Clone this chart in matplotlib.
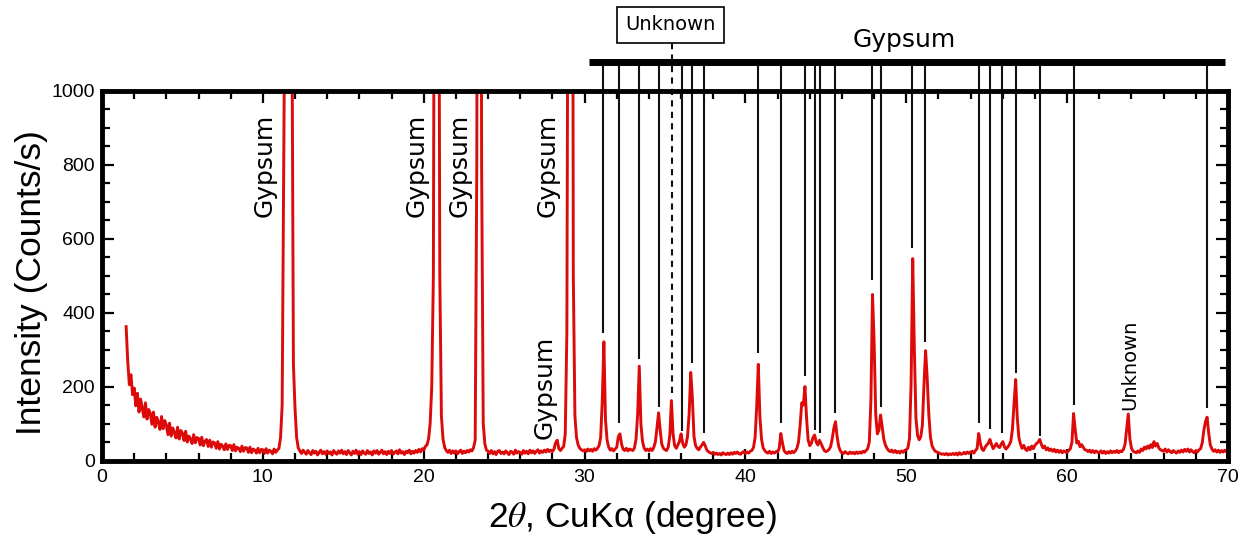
import numpy as np
import matplotlib
matplotlib.use("Agg")
import matplotlib.pyplot as plt
from matplotlib.ticker import MultipleLocator

nan = np.nan

# ---- Measured pattern: intensity (counts/s), one row per degree of 2-theta, 0.1 deg step ----
counts_01_10 = [
    [nan, nan, nan, nan, nan, 362, 268, 205, 232, 178],   # 1.x
    [196, 148, 182, 131, 166, 142, 118, 156, 112, 138],   # 2.x
    [128, 98, 131, 90, 117, 104, 84, 119, 86, 108],       # 3.x
    [96, 70, 101, 66, 88, 75, 61, 90, 58, 81],            # 4.x
    [74, 54, 79, 50, 66, 58, 46, 70, 48, 62],             # 5.x
    [60, 42, 63, 40, 52, 57, 38, 55, 36, 50],             # 6.x
    [48, 33, 51, 31, 44, 39, 29, 45, 30, 41],             # 7.x
    [40, 27, 43, 26, 36, 33, 24, 39, 25, 35],             # 8.x
    [34, 22, 36, 21, 31, 28, 20, 33, 21, 30],             # 9.x
]
counts_10_20 = [
    [29, 19, 32, 20, 28, 25, 18, 31, 22, 28],             # 10.x
    [33, 62, 150, 800, 1500, 3500, 4500, 3000, 1300, 260],  # 11.x
    [140, 62, 34, 26, 19, 28, 22, 17, 27, 21],            # 12.x
    [16, 27, 20, 25, 15, 22, 28, 18, 24, 17],             # 13.x
    [26, 19, 23, 15, 27, 21, 17, 26, 20, 28],             # 14.x
    [18, 24, 16, 27, 21, 15, 25, 19, 28, 17],             # 15.x
    [24, 16, 26, 20, 17, 27, 19, 23, 15, 26],             # 16.x
    [20, 27, 17, 22, 28, 18, 24, 16, 25, 19],             # 17.x
    [27, 17, 22, 26, 18, 29, 20, 24, 16, 25],             # 18.x
    [21, 28, 18, 25, 20, 27, 22, 30, 23, 32],             # 19.x
]
counts_20_30 = [
    [28, 38, 42, 58, 100, 200, 500, 2200, 4500, 2200],    # 20.x
    [500, 120, 58, 36, 27, 22, 28, 19, 26, 20],           # 21.x
    [26, 18, 24, 28, 19, 25, 21, 27, 23, 29],             # 22.x
    [26, 35, 55, 800, 3200, 3200, 800, 100, 45, 28],      # 23.x
    [25, 19, 27, 18, 24, 16, 25, 27, 19, 23],             # 24.x
    [18, 26, 21, 16, 25, 23, 17, 28, 20, 24],             # 25.x
    [22, 17, 27, 20, 25, 18, 28, 21, 26, 19],             # 26.x
    [25, 29, 20, 26, 22, 28, 23, 30, 24, 28],             # 27.x
    [24, 31, 48, 55, 32, 27, 33, 38, 72, 350],            # 28.x
    [2000, 4500, 3200, 500, 120, 62, 42, 33, 29, 26],     # 29.x
]
counts_30_40 = [
    [29, 24, 31, 26, 30, 25, 32, 28, 33, 40],             # 30.x
    [62, 160, 321, 110, 55, 36, 28, 32, 26, 31],          # 31.x
    [36, 65, 72, 44, 30, 27, 33, 26, 31, 29],             # 32.x
    [27, 34, 58, 125, 255, 100, 52, 34, 27, 31],          # 33.x
    [26, 32, 27, 35, 50, 88, 129, 82, 44, 33],            # 34.x
    [29, 27, 36, 68, 162, 72, 40, 33, 42, 52],            # 35.x
    [72, 47, 36, 42, 65, 125, 238, 172, 66, 40],          # 36.x
    [33, 29, 36, 42, 49, 40, 28, 24, 21, 19],             # 37.x
    [22, 17, 20, 16, 19, 15, 21, 18, 16, 20],             # 38.x
    [16, 21, 17, 22, 19, 23, 18, 17, 22, 24],             # 39.x
]
counts_40_50 = [
    [19, 23, 20, 25, 27, 35, 62, 145, 260, 118],          # 40.x
    [58, 34, 27, 22, 20, 25, 19, 23, 20, 24],             # 41.x
    [23, 33, 73, 48, 27, 21, 19, 24, 20, 25],             # 42.x
    [21, 26, 33, 50, 95, 156, 150, 200, 115, 55],         # 43.x
    [40, 47, 62, 69, 50, 42, 55, 46, 36, 27],             # 44.x
    [24, 26, 30, 38, 60, 88, 105, 64, 38, 26],            # 45.x
    [21, 19, 24, 20, 18, 23, 19, 22, 18, 23],             # 46.x
    [19, 23, 20, 25, 22, 27, 32, 50, 160, 449],           # 47.x
    [321, 125, 72, 82, 123, 92, 58, 42, 33, 27],          # 48.x
    [24, 28, 22, 27, 21, 25, 20, 26, 22, 27],             # 49.x
]
counts_50_60 = [
    [29, 34, 60, 210, 546, 304, 115, 68, 56, 64],         # 50.x
    [95, 205, 297, 223, 125, 64, 40, 31, 25, 23],         # 51.x
    [21, 19, 17, 18, 16, 19, 15, 18, 16, 19],             # 52.x
    [16, 20, 15, 21, 17, 18, 22, 18, 23, 19],             # 53.x
    [23, 25, 20, 27, 32, 73, 47, 31, 27, 36],             # 54.x
    [42, 47, 57, 43, 32, 39, 46, 38, 35, 44],             # 55.x
    [51, 37, 31, 36, 42, 52, 85, 155, 219, 115],          # 56.x
    [62, 44, 33, 41, 31, 27, 36, 29, 39, 32],             # 57.x
    [41, 46, 50, 57, 43, 34, 39, 29, 34, 27],             # 58.x
    [31, 25, 30, 23, 28, 22, 27, 21, 26, 23],             # 59.x
]
counts_60_70 = [
    [22, 27, 32, 50, 127, 84, 47, 52, 37, 43],            # 60.x
    [36, 29, 28, 24, 28, 22, 27, 21, 26, 22],             # 61.x
    [21, 26, 20, 25, 19, 24, 20, 26, 21, 25],             # 62.x
    [22, 27, 21, 26, 24, 30, 44, 85, 126, 58],            # 63.x
    [33, 25, 23, 21, 26, 22, 31, 27, 36, 31],             # 64.x
    [39, 33, 43, 35, 51, 39, 46, 34, 29, 27],             # 65.x
    [25, 31, 23, 29, 24, 21, 27, 23, 20, 26],             # 66.x
    [22, 28, 23, 30, 25, 31, 23, 29, 24, 21],             # 67.x
    [27, 23, 29, 32, 48, 82, 105, 117, 74, 42],           # 68.x
    [31, 25, 29, 23, 28, 22, 27, 23, 28, 24],             # 69.x
    [24],                                                 # 70.0
]

# ---- Reference-line annotations (Gypsum) ----
gypsum_ref_pos = [31.16, 32.15, 33.39, 34.64, 36.03, 36.65, 37.43, 40.79, 42.24,
                  43.69, 44.31, 44.62, 45.56, 47.87, 48.40, 50.36, 51.19, 54.52,
                  55.19, 55.95, 56.80, 58.29, 60.41, 68.70]
gypsum_ref_end = [345, 101, 274, 145, 80, 264, 74, 291, 101,
                  228, 82, 74, 128, 488, 145, 574, 320, 101,
                  85, 74, 236, 66, 150, 142]
unknown_ref_pos = 35.44
unknown_ref_end = 182

# rotated label positions (2-theta)
strong_gypsum_label_x = [10.13, 19.58, 22.25, 27.72]
minor_gypsum_label_x = 27.53
unknown_label_x = 63.89

x_ticks = [0, 10, 20, 30, 40, 50, 60, 70]
y_ticks = [0, 200, 400, 600, 800, 1000]


def rows_to_xy(start_deg, rows):
    xs, ys = [], []
    for i, row in enumerate(rows):
        for k, v in enumerate(row):
            xs.append(round(start_deg + i + 0.1 * k, 2))
            ys.append(v)
    return xs, ys


two_theta, intensity = [], []
for start, rows in [(1, counts_01_10), (10, counts_10_20), (20, counts_20_30),
                    (30, counts_30_40), (40, counts_40_50), (50, counts_50_60),
                    (60, counts_60_70)]:
    xs, ys = rows_to_xy(start, rows)
    two_theta += xs
    intensity += ys

plt.rcParams['font.family'] = ['Liberation Sans', 'DejaVu Sans']
plt.rcParams['mathtext.fontset'] = 'stix'

W, H = 1252, 541
fig = plt.figure(figsize=(W / 100, H / 100), dpi=100)
ax = fig.add_axes([102 / W, 1 - 460.5 / H, 1126 / W, 369.8 / H])

RED = '#dd0a0a'
ax.plot(two_theta, intensity, color=RED, lw=2.1, solid_joinstyle='round', zorder=3)

ax.set_xlim(0, 70)
ax.set_ylim(0, 1000)
ax.set_xticks(x_ticks)
ax.set_yticks(y_ticks)
ax.xaxis.set_minor_locator(MultipleLocator(2))
ax.yaxis.set_minor_locator(MultipleLocator(50))
ax.tick_params(which='both', direction='in', top=True, right=True, width=1.6,
               labelsize=14, color='black')
ax.tick_params(which='major', length=8.5)
ax.tick_params(which='minor', length=6)
ax.tick_params(axis='x', pad=6)
ax.tick_params(axis='y', pad=5)
for s in ax.spines.values():
    s.set_linewidth(3.5)
    s.set_zorder(5)

# axis labels
ax.set_ylabel('Intensity (Counts/s)', fontsize=25.5)
ax.set_xlabel(r'2$\theta$, CuKα (degree)', fontsize=25.5)
ax.yaxis.label.set_va('center')
ax.xaxis.label.set_va('center')
ax.yaxis.set_label_coords(32 / W, 1 - 282.5 / H, transform=fig.transFigure)
ax.xaxis.set_label_coords(632 / W, 1 - 518 / H, transform=fig.transFigure)

ANN = ['DejaVu Sans']
BAR_Y = 1077

# gypsum bar + reference lines
ax.plot([30.27, 69.8], [BAR_Y, BAR_Y], color='black', lw=5, solid_capstyle='butt',
        clip_on=False, zorder=6)
ax.vlines(gypsum_ref_pos, gypsum_ref_end, BAR_Y, colors='#111111', lw=1.5,
          clip_on=False, zorder=4)
ax.text(49.9, 1118, 'Gypsum', fontsize=18, family=ANN, ha='center',
        va='baseline', clip_on=False)

# unknown (dashed) line with boxed label
ax.plot([unknown_ref_pos, unknown_ref_pos], [unknown_ref_end, 1128], color='#111111',
        lw=1.5, ls=(0, (3, 2.5)), clip_on=False, zorder=4)
ax.text(35.34, 1178, 'Unknown', fontsize=14, family=ANN, ha='center', va='center',
        clip_on=False,
        bbox=dict(boxstyle='square,pad=0.45', fc='white', ec='black', lw=1.2))

# rotated labels
for xl in strong_gypsum_label_x:
    ax.text(xl, 939, 'Gypsum', rotation=90, fontsize=18, family=ANN,
            ha='center', va='top')
ax.text(minor_gypsum_label_x, 58, 'Gypsum', rotation=90, fontsize=18, family=ANN,
        ha='center', va='bottom')
ax.text(unknown_label_x, 136, 'Unknown', rotation=90, fontsize=14, family=ANN,
        ha='center', va='bottom')

fig.savefig('out.png', dpi=100)
